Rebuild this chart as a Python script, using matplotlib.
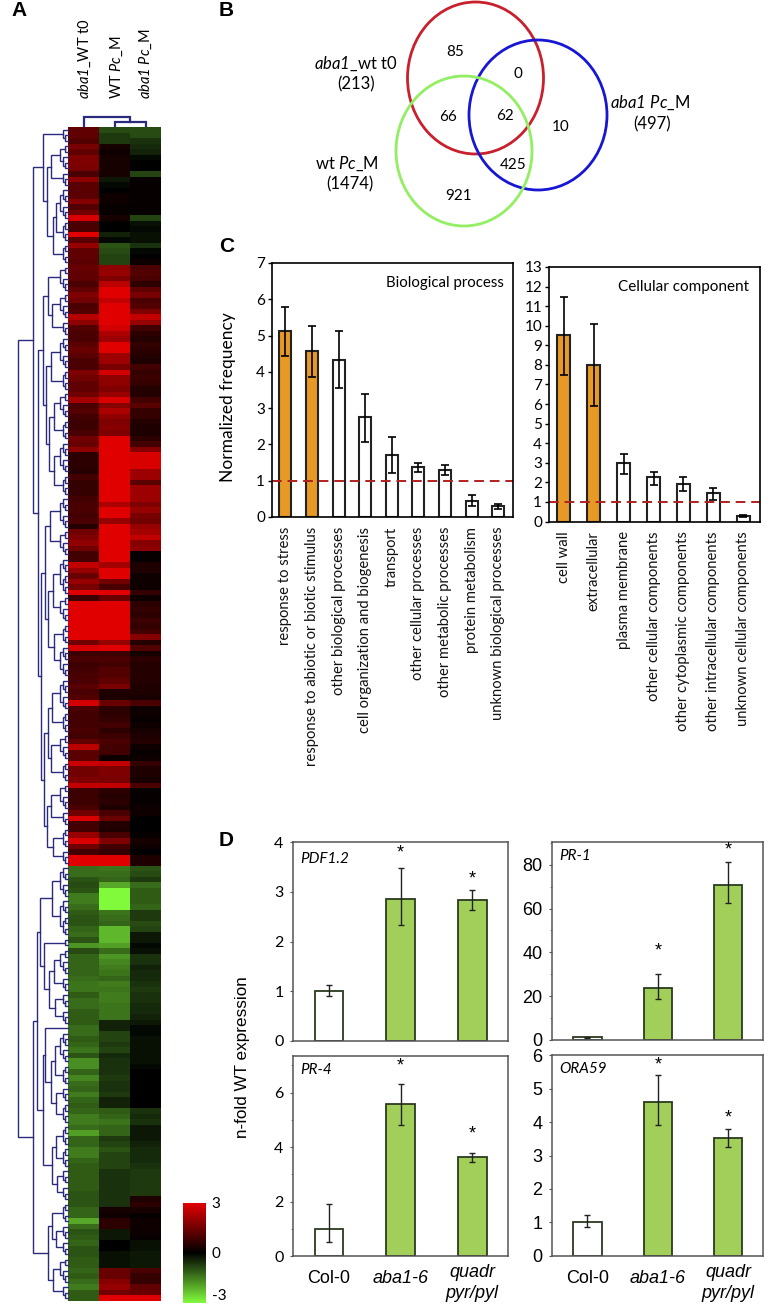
import numpy as np
import matplotlib
matplotlib.use("Agg")
import matplotlib.pyplot as plt
from matplotlib.colors import LinearSegmentedColormap
from matplotlib.patches import Ellipse
from matplotlib.ticker import MultipleLocator

plt.rcParams['font.family'] = ['Lato', 'DejaVu Sans']
plt.rcParams['mathtext.fontset'] = 'custom'
plt.rcParams['mathtext.rm'] = 'Lato:italic'  # digits in \mathit come from rm
plt.rcParams['mathtext.it'] = 'Lato:italic'
plt.rcParams['axes.unicode_minus'] = False

W, H = 768, 1306

# Panel A - heatmap, one value per gene
heat_labels = [r"$\mathit{aba1}$_WT t0", r"WT $\mathit{Pc}$_M", r"$\mathit{aba1}$ $\mathit{Pc}$_M"]
heat_t0 = [
    1.3, 1.3, 1.1, 1.6, 1.3, 1.7, 1.7, 1.6, 1.0, 1.9,
    1.2, 1.2, 1.2, 1.8, 1.1, 1.5, 2.9, 1.0, 1.0, 3.0,
    1.2, 2.0, 1.3, 1.3, 1.2, 1.4, 1.3, 1.3, 1.0, 1.3,
    1.7, 1.5, 1.0, 1.1, 2.4, 1.9, 1.1, 1.0, 1.0, 1.2,
    1.4, 1.2, 1.0, 1.0, 1.7, 1.5, 1.3, 1.3, 1.5, 2.2,
    1.0, 1.1, 0.9, 0.8, 0.8, 1.0, 1.5, 1.4, 1.9, 0.6,
    0.6, 0.6, 0.5, 0.9, 0.7, 0.7, 0.7, 0.9, 1.0, 1.0,
    0.9, 1.0, 0.5, 1.5, 1.7, 1.9, 1.5, 0.9, 0.9, 2.6,
    2.0, 1.4, 2.0, 1.6, 3.0, 0.8, 3.0, 3.0, 3.0, 3.0,
    3.0, 3.0, 3.0, 1.5, 2.9, 0.8, 1.0, 0.8, 0.9, 1.0,
    1.0, 1.2, 1.0, 1.1, 2.8, 1.0, 0.9, 0.9, 0.9, 1.0,
    0.9, 1.3, 2.5, 1.2, 1.2, 2.7, 1.5, 1.5, 1.7, 2.6,
    0.8, 0.8, 0.8, 1.0, 1.5, 2.9, 0.9, 0.9, 2.0, 2.9,
    1.5, 0.9, 3.0, 3.0,
    -1.3, -1.3, -1.0, -0.9, -1.0, -1.5,
    -1.5, -1.3, -1.1, -1.0, -1.0, -1.2, -1.3, -1.0, -1.8, -0.9,
    -1.2, -1.2, -1.2, -1.2, -1.3, -1.4, -1.4, -1.1, -1.3, -1.3,
    -1.1, -1.1, -1.1, -1.3, -1.3, -1.1, -1.2, -1.4, -1.0, -1.7,
    -1.7, -1.2, -1.6, -1.3, -1.2, -1.5, -1.2, -1.1, -1.2, -1.5,
    -1.5, -1.3, -1.9, -1.2, -1.2, -1.5, -1.5, -1.2, -1.1, -1.1,
    -1.1, -1.1, -1.1, -1.0, -1.0, -1.0, -1.2, -1.2, -2.0, -1.3,
    -1.0, -1.1, -1.2, -1.0, -1.0, -1.1, -1.1, -1.2, -1.1, -1.3,
    -1.5, -1.1, -1.1,
]
heat_wt = [
    -0.9, -0.7, -0.7, 0.3, 0.2, 0.3, 0.3, 0.3, 0.3, -0.3,
    -0.1, 0.0, 0.2, 0.2, 0.1, 0.1, 0.3, 0.0, 0.0, -0.4,
    -0.1, -1.0, -0.9, -0.8, -0.8, 1.9, 2.0, 1.7, 2.5, 3.0,
    3.0, 2.6, 3.0, 3.0, 3.0, 3.0, 2.8, 2.3, 2.1, 3.0,
    3.0, 2.1, 2.1, 1.6, 2.8, 1.9, 1.9, 1.7, 2.0, 2.9,
    1.8, 2.3, 1.9, 1.7, 1.8, 1.7, 3.0, 3.0, 3.0, 3.0,
    3.0, 3.0, 3.0, 3.0, 3.0, 3.0, 3.0, 3.0, 2.3, 3.0,
    3.0, 2.0, 3.0, 3.0, 3.0, 3.0, 3.0, 3.0, 3.0, 2.2,
    3.0, 3.0, 1.5, 1.0, 3.0, 1.4, 3.0, 3.0, 3.0, 3.0,
    3.0, 3.0, 3.0, 2.0, 3.0, 0.8, 1.0, 0.9, 1.1, 1.1,
    1.3, 1.6, 0.4, 0.4, 1.4, 0.6, 0.6, 0.7, 0.9, 0.6,
    0.8, 1.0, 0.9, 0.9, 0.2, 2.6, 1.7, 1.7, 1.6, 2.6,
    0.6, 0.5, 0.6, 0.4, 1.0, 1.4, 0.5, 0.4, 1.0, 1.7,
    0.9, 0.7, 3.0, 3.0,
    -1.4, -1.3, -1.2, -2.0, -3.0, -3.0,
    -3.0, -3.0, -1.4, -1.3, -1.2, -2.2, -2.2, -2.2, -1.9, -1.3,
    -1.8, -1.6, -1.5, -1.4, -1.2, -1.5, -1.4, -1.5, -1.5, -1.4,
    -1.4, -1.4, -0.4, -0.4, -0.8, -0.8, -0.7, -0.8, -0.5, -0.6,
    -0.6, -0.6, -0.7, -0.6, -0.6, -0.7, -0.4, -0.4, -1.1, -1.2,
    -1.4, -1.2, -1.2, -0.7, -0.8, -1.0, -0.8, -0.8, -0.8, -0.6,
    -0.6, -0.6, -0.6, -0.6, -0.6, -0.6, 0.3, 0.2, 0.6, 0.6,
    -0.3, -0.3, 0.0, 0.0, -0.2, -0.2, -0.2, 1.4, 1.4, 1.8,
    2.0, 1.5, 3.0,
]
heat_aba1 = [
    -0.9, -0.9, -0.6, -0.5, -0.4, -0.1, 0.0, 0.0, -0.8, 0.1,
    0.1, 0.1, 0.1, 0.1, 0.1, 0.1, -0.8, -0.2, -0.1, -0.2,
    -0.2, -0.6, -0.1, 0.0, 0.2, 1.0, 1.1, 1.0, 0.6, 1.3,
    1.6, 1.0, 1.1, 1.7, 2.6, 2.0, 0.9, 0.6, 0.5, 0.7,
    0.6, 0.5, 0.4, 0.9, 0.7, 0.8, 0.7, 0.5, 0.5, 0.9,
    1.2, 0.7, 0.7, 0.5, 0.4, 0.4, 0.6, 0.9, 1.8, 2.9,
    2.9, 2.9, 2.1, 2.1, 1.2, 2.1, 2.1, 2.1, 1.7, 2.0,
    1.6, 1.5, 2.0, 2.2, 2.6, 1.8, 1.9, 0.1, 0.1, 0.4,
    0.4, 0.2, 0.2, 0.2, 0.7, 0.2, 0.6, 0.7, 0.6, 0.8,
    0.7, 0.9, 1.8, 0.5, 1.1, 0.3, 0.6, 0.5, 0.5, 0.5,
    0.5, 0.4, 0.4, 0.3, 1.0, 0.2, 0.2, 0.1, 0.2, 0.3,
    0.4, 0.5, 0.2, 0.1, 0.2, 0.7, 0.4, 0.4, 0.3, 1.0,
    0.1, 0.1, 0.1, 0.2, 0.2, 0.0, 0.0, 0.0, 0.1, 0.3,
    0.2, 0.0, 0.4, 0.4,
    -1.0, -0.9, -0.7, -1.3, -1.1, -1.1,
    -1.1, -1.2, -0.7, -0.7, -0.9, -0.8, -0.3, -0.3, -0.1, -0.2,
    -0.6, -0.6, -0.4, -0.5, -0.5, -0.6, -0.7, -0.6, -0.6, -0.5,
    -0.5, -0.4, -0.3, -0.1, -0.1, -0.2, -0.2, -0.2, -0.2, -0.2,
    -0.1, 0.0, 0.0, 0.0, 0.0, 0.0, 0.0, 0.0, -0.6, -0.5,
    -0.6, -0.3, -0.3, -0.3, -0.4, -0.5, -0.5, -0.5, -0.6, -0.7,
    -0.7, -0.7, -0.7, -0.7, 0.4, 0.6, 0.3, 0.1, 0.2, 0.2,
    0.2, 0.1, -0.2, -0.2, -0.3, -0.3, -0.3, 1.0, 0.7, 0.7,
    1.3, 1.4, 3.0,
]

# row dendrogram: (distance, child, child), a bare int is a small cluster of that many rows
row_a1 = (25, 3, (21, (17, 5, 3), (15, (12, 6, 4), 4)))
row_a21 = (25, (20, 5, (16, 5, 3)), (22, (17, 6, 4), (19, (14, 5, 4), (14, 6, 4))))
row_a22 = (27, (23, (18, 6, 5), (20, (15, 7, 5), (14, 4, 6))),
           (24, (20, (16, 6, 4), (17, 5, 4)), (21, (17, 5, 3), (15, 4, 3))))
row_b1 = (28, (16, 6, 7), (24, 2, (19, (14, 5, 3), (13, 3, 3))))
row_b2 = (23, 1, (17, (13, 6, 4), (12, 3, 4)))
row_b3 = (16, (12, 4, 4), (11, 3, 3))
row_b4 = (20, (16, 4, (12, 3, 3)), (15, 5, 3))
row_tree = (50, (35, row_a1, (30, row_a21, row_a22)),
            (35, (31, row_b1, (25, row_b2, row_b3)), row_b4))

# Panel B - venn counts
venn_counts = ["85", "0", "66", "62", "10", "425", "921"]
venn_sets = [r"$\mathit{aba1}$_wt t0", "(213)", r"wt $\mathit{Pc}$_M", "(1474)",
             r"$\mathit{aba1}$ $\mathit{Pc}$_M", "(497)"]

# Panel C
bp_labels = ["response to stress", "response to abiotic or biotic stimulus",
             "other biological processes", "cell organization and biogenesis", "transport",
             "other cellular processes", "other metabolic processes", "protein metabolism",
             "unknown biological processes"]
bp_vals = [5.12, 4.57, 4.33, 2.75, 1.70, 1.37, 1.30, 0.45, 0.30]
bp_low = [4.43, 3.87, 3.55, 2.07, 1.20, 1.23, 1.17, 0.30, 0.22]
bp_high = [5.80, 5.27, 5.13, 3.40, 2.20, 1.50, 1.42, 0.60, 0.37]

cc_labels = ["cell wall", "extracellular", "plasma membrane", "other cellular components",
             "other cytoplasmic components", "other intracellular components",
             "unknown cellular components"]
cc_vals = [9.55, 8.00, 2.97, 2.25, 1.90, 1.45, 0.30]
cc_low = [7.50, 5.90, 2.45, 1.85, 1.55, 1.10, 0.22]
cc_high = [11.45, 10.10, 3.45, 2.55, 2.28, 1.70, 0.35]

# Panel D
geno_labels = ["Col-0", "aba1-6", "quadr\npyr/pyl"]
pdf_vals = [1.0, 2.86, 2.83]
pdf_low = [0.90, 2.33, 2.63]
pdf_high = [1.13, 3.48, 3.03]
pdf_stars = [None, 3.83, 3.30]
pr1_vals = [1.2, 23.9, 70.9]
pr1_low = [1.1, 18.7, 62.5]
pr1_high = [1.3, 30.0, 81.2]
pr1_stars = [None, 41.5, 87.6]
pr4_vals = [1.0, 5.57, 3.63]
pr4_low = [0.50, 4.80, 3.47]
pr4_high = [1.90, 6.32, 3.80]
pr4_stars = [None, 7.06, 4.55]
ora_vals = [1.0, 4.60, 3.52]
ora_low = [0.87, 3.90, 3.25]
ora_high = [1.22, 5.42, 3.80]
ora_stars = [None, 5.76, 4.18]

NAVY = "#2b2b7d"
fig = plt.figure(figsize=(W / 100, H / 100), dpi=100)


def px_axes(x0, y0, x1, y1):
    # axes from pixel box, y counted from the top of the image
    return fig.add_axes([x0 / W, 1 - y1 / H, (x1 - x0) / W, (y1 - y0) / H])


def px_text(x, y, s, **kw):
    kw.setdefault("ha", "center")
    kw.setdefault("va", "center")
    return fig.text(x / W, 1 - y / H, s, **kw)


# --- A: heatmap
heat = np.column_stack([heat_t0, heat_wt, heat_aba1])
cmap = LinearSegmentedColormap.from_list("gbr", ["#82fa3c", "#000000", "#e10000"])
ax = px_axes(68, 127, 161, 1301)
im = ax.imshow(heat, cmap=cmap, vmin=-3, vmax=3, aspect="auto", interpolation="nearest")
ax.axis("off")

for x, lab in zip([85, 117, 146], heat_labels):
    px_text(x, 99, lab, rotation=90, va="bottom", fontsize=10.5)


def draw_node(ax, node, first):
    if isinstance(node, int):
        if node == 1:
            return first + 0.5, 0, first + 1
        node = (2.6 * np.ceil(np.log2(node)), node // 2, node - node // 2)
    d, left, right = node
    yl, dl, nxt = draw_node(ax, left, first)
    yr, dr, nxt = draw_node(ax, right, nxt)
    ax.plot([dl, d, d, dr], [yl, yl, yr, yr], color=NAVY, lw=1.0, solid_joinstyle="miter", clip_on=False)
    return (yl + yr) / 2, d, nxt


ax = px_axes(18, 127, 68, 1301)
ax.set_xlim(50, 0)
ax.set_ylim(len(heat_t0), 0)
ax.axis("off")
draw_node(ax, row_tree, 0)

# column dendrogram
ax = px_axes(68, 112, 161, 127)
ax.set_xlim(0, 3)
ax.set_ylim(0, 10)
ax.axis("off")
ax.plot([1.5, 1.5, 2.5, 2.5], [0, 3.5, 3.5, 0], color=NAVY, lw=1.6, solid_joinstyle="miter")
ax.plot([0.5, 0.5, 2.0, 2.0], [0, 7, 7, 3.5], color=NAVY, lw=1.6, solid_joinstyle="miter")

# colour scale
cax = px_axes(183, 1203, 206, 1303)
cb = fig.colorbar(im, cax=cax, ticks=[-3, 0, 3])
cb.outline.set_visible(False)
cb.ax.tick_params(length=0, labelsize=11, pad=4)
cb.ax.set_yticklabels(["-3", "0", "3"])
cb.ax.get_yticklabels()[0].set_va("bottom")

# --- B: venn
ax = px_axes(0, 0, W, H)
ax.set_xlim(0, W)
ax.set_ylim(H, 0)
ax.axis("off")
ax.patch.set_alpha(0)
ax.add_patch(Ellipse((475.5, 78), 136, 152, fill=False, ec="#c8202c", lw=2))
ax.add_patch(Ellipse((538, 115), 138, 150, fill=False, ec="#1616d4", lw=2))
ax.add_patch(Ellipse((464, 151), 136, 150, fill=False, ec="#92ee62", lw=2))
count_xy = [(455, 52), (518, 74), (448, 117), (505, 116), (561, 127), (513, 165), (459, 196)]
for (x, y), s in zip(count_xy, venn_counts):
    ax.text(x, y, s, ha="center", va="center", fontsize=11)
set_xy = [(356, 64), (356, 84), (347, 164), (350, 184), (650, 103), (652, 124)]
for (x, y), s in zip(set_xy, venn_sets):
    ax.text(x, y, s, ha="center", va="center", fontsize=12)


# --- C: GO bars
def go_panel(box, vals, low, high, labels, title, title_x, n_orange, ymax, tick_size, bar_w, title_size):
    ax = px_axes(*box)
    xs = np.arange(len(vals))
    vals = np.array(vals)
    colors = ["#e69a25" if i < n_orange else "white" for i in xs]
    ax.bar(xs, vals, width=bar_w, color=colors, edgecolor="#222222", lw=1.5)
    ax.errorbar(xs, vals, yerr=[vals - np.array(low), np.array(high) - vals], fmt="none",
                ecolor="black", elinewidth=1.2, capsize=2.6, capthick=1.2)
    ax.axhline(1, color="#b02020", lw=1.4, dashes=(5, 3))
    ax.set_xlim(-0.5, len(vals) - 0.45)
    ax.set_ylim(0, ymax)
    ax.yaxis.set_major_locator(MultipleLocator(1))
    ax.tick_params(axis="y", length=3, width=1, labelsize=tick_size, pad=2)
    ax.set_xticks(xs)
    ax.set_xticklabels(labels, rotation=90, fontsize=10.6, color="#111111")
    ax.tick_params(axis="x", length=0, pad=7)
    for sp in ax.spines.values():
        sp.set_linewidth(1.2)
    px_text(title_x, box[1] + 20, title, ha="left", fontsize=title_size)
    return ax


go_panel((272, 263, 513, 517), bp_vals, bp_low, bp_high, bp_labels, "Biological process", 386, 2, 7, 11, 0.45, 10.8)
go_panel((549, 267, 759.5, 521.5), cc_vals, cc_low, cc_high, cc_labels, "Cellular component", 618, 2, 13, 11, 0.44, 11)
px_text(228, 397, "Normalized frequency", rotation=90, fontsize=12.5)


# --- D: qPCR bars
def qpcr_panel(box, gene, vals, low, high, stars, ymax, major, minor, font, tick_size, show_x, gene_y):
    ax = px_axes(*box)
    xs = np.arange(3)
    vals = np.array(vals)
    ax.bar(xs, vals, width=0.4, color=["white", "#a2cf5a", "#a2cf5a"], edgecolor="#2c3a20", lw=1.3)
    ax.errorbar(xs, vals, yerr=[vals - np.array(low), np.array(high) - vals], fmt="none",
                ecolor="#222222", elinewidth=1.0, capsize=2.5, capthick=1.0)
    for x, s in zip(xs, stars):
        if s is not None:
            ax.text(x, s, "*", ha="center", va="center_baseline", fontsize=13, family="Liberation Sans")
    ax.set_xlim(-0.5, 2.5)
    ax.set_ylim(0, ymax)
    ax.yaxis.set_major_locator(MultipleLocator(major))
    ax.yaxis.set_minor_locator(MultipleLocator(minor))
    ax.tick_params(axis="y", which="major", length=2, width=0.8, color="#555555", labelsize=tick_size, pad=5)
    ax.tick_params(axis="y", which="minor", length=1.5, width=0.6, color="#777777")
    for lab in ax.get_yticklabels():
        lab.set_family(font)
    for sp in ax.spines.values():
        sp.set_color("#555555")
        sp.set_linewidth(1.1)
    ax.set_xticks(xs)
    if show_x:
        ax.set_xticklabels(geno_labels, fontsize=13, family="Liberation Sans", linespacing=1.3)
        for i, lab in enumerate(ax.get_xticklabels()):
            if i > 0:
                lab.set_style("italic")
        ax.tick_params(axis="x", length=0, pad=10)
        ax.xaxis.get_major_ticks()[2].set_pad(6)
    else:
        ax.set_xticklabels([])
        ax.tick_params(axis="x", length=0)
    px_text(box[0] + 7, gene_y, gene, ha="left", style="italic", fontsize=11)
    return ax


qpcr_panel((293.3, 842.3, 508, 1040.7), "PDF1.2", pdf_vals, pdf_low, pdf_high, pdf_stars, 4, 1, 1, "Lato", 11.5, False, 859)
qpcr_panel((552.3, 841.7, 763.3, 1040), "PR-1", pr1_vals, pr1_low, pr1_high, pr1_stars, 90.5, 20, 10, "Liberation Sans", 13, False, 856)
qpcr_panel((293.3, 1055.7, 508, 1256), "PR-4", pr4_vals, pr4_low, pr4_high, pr4_stars, 7.36, 2, 1, "Lato", 11.5, True, 1070)
qpcr_panel((552.3, 1055.3, 763.3, 1255.7), "ORA59", ora_vals, ora_low, ora_high, ora_stars, 6, 1, 1, "Liberation Sans", 13, True, 1069)
px_text(243, 1057, "n-fold WT expression", rotation=90, fontsize=12.3, family="Liberation Sans")

# panel letters
for (x, y), s in zip([(19, 11), (226, 10), (227, 247), (226, 840)], "ABCD"):
    px_text(x, y, s, fontsize=15, fontweight="bold", family="Liberation Sans")

fig.savefig("out.png", dpi=100)
